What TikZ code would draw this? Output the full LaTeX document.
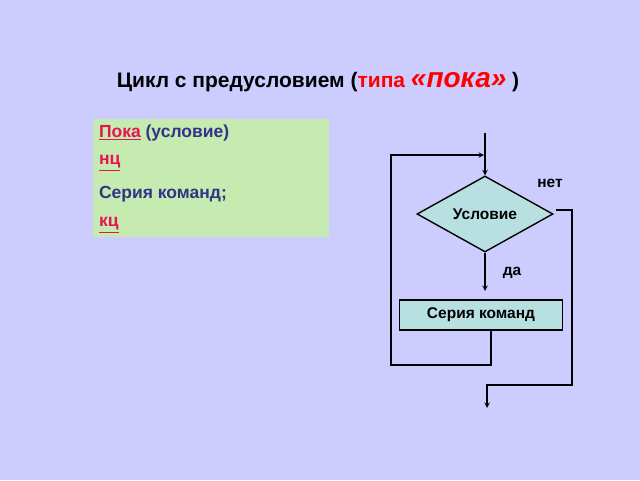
\documentclass[tikz,border=0pt]{standalone}
\usepackage{fontspec}
\setmainfont{Liberation Sans}
\usetikzlibrary{shapes.geometric}
\usetikzlibrary{positioning}
\usetikzlibrary{arrows}
\definecolor{bgcol}{RGB}{204,204,255}
\definecolor{codecol}{RGB}{198,235,176}
\definecolor{textblue}{RGB}{51,51,136}
\definecolor{keyred}{RGB}{230,20,80}
\definecolor{boxcol}{RGB}{184,224,224}
\begin{document}
\begin{tikzpicture}[x=1pt,y=-1pt,->,>=stealth,line width=1.4pt,
		flow node/.style={draw,fill=boxcol,font=\bfseries\fontsize{15.5}{18}\selectfont},
		code line/.style={anchor=west,text=textblue,font=\bfseries\fontsize{17.5}{20}\selectfont},
		label node/.style={font=\bfseries\fontsize{15.5}{18}\selectfont}]
		
		\fill[bgcol] (0,0) rectangle (640,480);
		\useasboundingbox (0,0) rectangle (640,480);
		
		\node (title) at (318,82) {\bfseries\fontsize{21}{24}\selectfont Цикл с предусловием (\textcolor{red}{типа \fontsize{28}{30}\selectfont\itshape «пока»} )};
		
		\fill[codecol] (93,119) rectangle (329,237);
		\node[code line] (l1) at (95,133) {\textcolor{keyred}{\underline{Пока}} (условие)};
		\node[code line] (l2) at (95,163) {\textcolor{keyred}{\underline{нц}}};
		\node[code line] (l3) at (95,194) {Серия команд;};
		\node[code line] (l4) at (95,225) {\textcolor{keyred}{\underline{кц}}};
		
		\node[flow node, diamond, aspect=1.8, minimum width=136, minimum height=76, inner sep=0] (cond) at (485,214) {Условие};
		\node[flow node, rectangle, minimum width=163, minimum height=30] (body) at (481,315) {Серия команд};
		\node[label node] (no) at (550,183) {нет};
		\node[label node] (yes) at (512,273) {да};
		
		\coordinate (start) at (485,133);
		\coordinate (back) at (484,155);
		\coordinate (finish) at (487,408);
		
		\draw (start) -- (cond.north);
		\draw (cond.south) -- (485,291);
		\draw (491,330) -- (491,365) -- (391,365) -- (391,155) -- (back);
		\draw (556,210) -- (572,210) -- (572,385) -- (487,385) -- (finish);
		\end{tikzpicture}
\end{document}
